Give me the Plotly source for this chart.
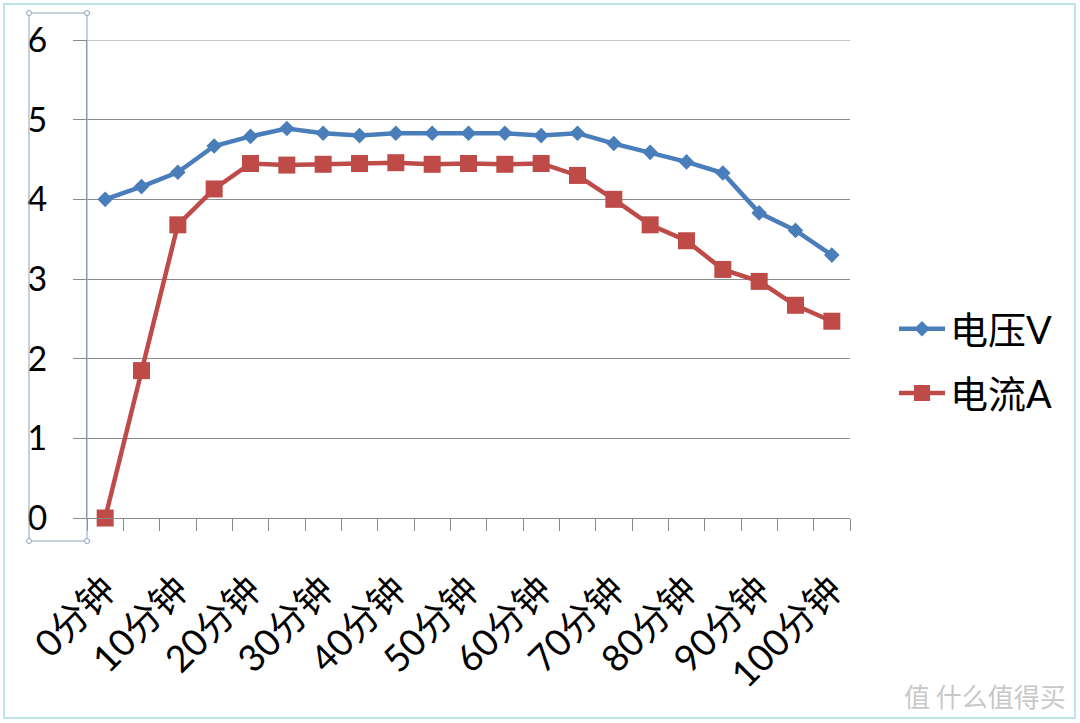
import plotly.graph_objects as go

minutes = [0, 5, 10, 15, 20, 25, 30, 35, 40, 45, 50, 55, 60, 65, 70, 75, 80, 85, 90, 95, 100]
voltage = [4.00, 4.16, 4.34, 4.67, 4.79, 4.89, 4.83, 4.80, 4.83, 4.83, 4.83, 4.83, 4.80, 4.83,
           4.70, 4.59, 4.47, 4.33, 3.83, 3.61, 3.30]
current = [0.00, 1.85, 3.68, 4.13, 4.45, 4.43, 4.44, 4.45, 4.46, 4.44, 4.45, 4.44, 4.45, 4.30,
           4.00, 3.68, 3.48, 3.12, 2.97, 2.67, 2.47]
tick_vals = [0, 10, 20, 30, 40, 50, 60, 70, 80, 90, 100]
tick_text = ["0分钟", "10分钟", "20分钟", "30分钟", "40分钟", "50分钟", "60分钟",
             "70分钟", "80分钟", "90分钟", "100分钟"]
y_ticks = [0, 1, 2, 3, 4, 5, 6]
series_names = ["电压V", "电流A"]

W, H = 1080, 723
L, R, T, B = 87, 230, 40, 205
PW, PH = W - L - R, H - T - B

def px(x):
    return (x - L) / PW

def py(y):
    return (H - B - y) / PH

FONT = "Lato, Noto Sans CJK SC, sans-serif"
GRID = "#8a8a8a"

fig = go.Figure()
fig.add_trace(go.Scatter(
    x=minutes, y=voltage, name=series_names[0], mode="lines+markers",
    line=dict(color="#4A7EBB", width=4.5),
    marker=dict(symbol="diamond", size=12, color="#4A7EBB"),
    cliponaxis=False, legendgroup="a"))
fig.add_trace(go.Scatter(
    x=minutes, y=current, name=series_names[1], mode="lines+markers",
    line=dict(color="#BE4B48", width=4.5),
    marker=dict(symbol="square", size=17, color="#BE4B48"),
    cliponaxis=False, legendgroup="b"))

fig.update_layout(
    width=W, height=H,
    margin=dict(l=L, r=R, t=T, b=B, pad=0),
    paper_bgcolor="white", plot_bgcolor="white",
    font=dict(family=FONT, color="black"),
    showlegend=True,
    legend=dict(x=px(894), xanchor="left", y=py(361), yanchor="middle",
                font=dict(size=38, family=FONT), tracegroupgap=12, itemwidth=46,
                traceorder="grouped", bgcolor="rgba(0,0,0,0)"),
    xaxis=dict(range=[-2.5, 102.5], tickmode="array", tickvals=tick_vals, ticktext=tick_text,
               tickangle=-45, tickfont=dict(size=37, family=FONT), ticks="",
               ticklabelstandoff=34,
               showline=True, linecolor=GRID, linewidth=1, showgrid=False, zeroline=False,
               minor=dict(tick0=2.5, dtick=5, ticks="outside", ticklen=12, tickcolor=GRID,
                          showgrid=False)),
    yaxis=dict(range=[0, 6], tickvals=y_ticks, tickfont=dict(size=34, family=FONT),
               ticks="outside", ticklen=13, tickcolor=GRID, ticklabelstandoff=19,
               showline=True, linecolor=GRID, linewidth=1,
               showgrid=True, gridcolor=GRID, gridwidth=1, zeroline=False),
)

# top gridline (plotly drops gridlines lying on the plot edge)
fig.add_shape(type="line", xref="paper", yref="y", x0=0, x1=1, y0=y_ticks[-1], y1=y_ticks[-1],
              line=dict(color=GRID, width=1), layer="below")

# Excel selection box around the y axis labels
sel_col = "#8aa4bd"
fig.add_shape(type="rect", xref="paper", yref="paper",
              x0=px(29), x1=px(87), y0=py(541), y1=py(13),
              line=dict(color=sel_col, width=1))
for cx, cy in [(29, 13), (87, 13), (29, 541), (87, 541)]:
    fig.add_shape(type="circle", xref="paper", yref="paper",
                  x0=px(cx - 2.5), x1=px(cx + 2.5), y0=py(cy + 2.5), y1=py(cy - 2.5),
                  line=dict(color=sel_col, width=1), fillcolor="white")

# outer frame
fig.add_shape(type="rect", xref="paper", yref="paper",
              x0=px(4), x1=px(1075), y0=py(718), y1=py(4),
              line=dict(color="#bfe3ea", width=2))

# watermark
fig.add_annotation(xref="paper", yref="paper", x=px(1068), y=py(695), xanchor="right",
                   yanchor="middle", showarrow=False, text="值 什么值得买",
                   font=dict(size=26, color="#c8c8c8", family="Noto Sans CJK SC"))

fig.write_html("out.html")
